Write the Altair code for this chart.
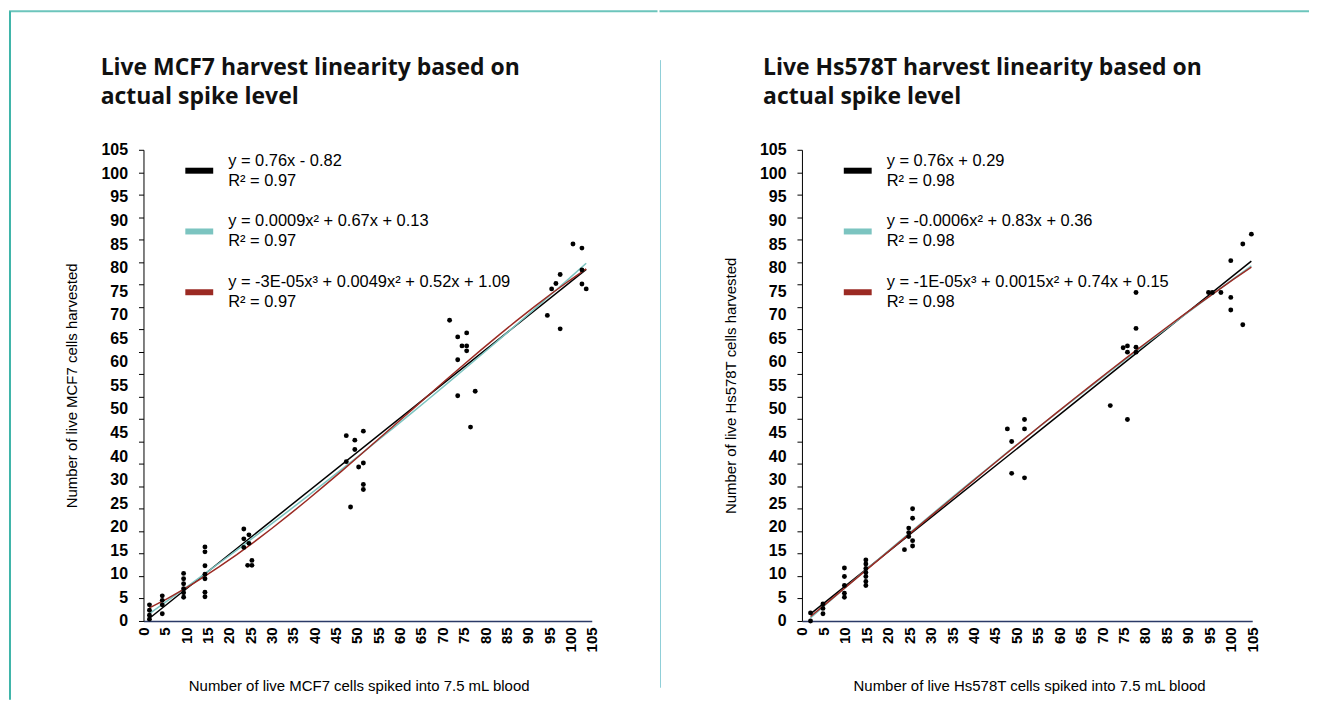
import altair as alt
import pandas as pd

# ---------------- data ----------------
mcf7_x = [1.4, 1.4, 1.4, 1.4,
          4.4, 4.4, 4.4, 4.4,
          9.4, 9.4, 9.4, 9.4, 9.4, 9.4,
          14.4, 14.4, 14.4, 14.4, 14.4, 14.4, 14.4,
          23.5, 23.5, 23.5, 24.4, 24.7, 24.7, 25.4, 25.4,
          47.5, 47.5, 48.5, 49.5, 49.5, 50.4, 51.5, 51.5, 51.5, 51.5,
          71.7, 73.6, 73.6, 73.6, 74.6, 75.7, 75.7, 75.7, 76.6, 77.7,
          94.6, 95.6, 96.6, 97.6, 97.6, 100.6, 102.7, 102.7, 102.7, 103.7]
mcf7_y = [3.6, 2.4, 1.3, 0.4,
          5.6, 4.6, 3.6, 1.6,
          10.6, 9.4, 8.3, 7.2, 6.3, 5.3,
          16.5, 15.4, 12.3, 10.4, 9.4, 6.4, 5.4,
          20.5, 18.3, 16.4, 12.4, 19.2, 17.3, 13.5, 12.4,
          41.3, 35.5, 25.4, 40.3, 38.2, 34.3, 42.3, 35.2, 30.4, 29.3,
          67.0, 63.3, 58.2, 50.2, 61.3, 64.2, 61.3, 60.2, 43.2, 51.2,
          68.1, 74.0, 75.2, 77.2, 65.1, 84.0, 83.1, 78.2, 75.1, 74.0]

hs_x = [2.0, 2.0,
        4.9, 4.9, 4.9,
        9.9, 9.9, 9.9, 9.9, 9.9,
        14.9, 14.9, 14.9, 14.9, 14.9, 14.9, 14.9,
        23.9, 24.9, 24.9, 24.9, 25.8, 25.8, 25.8, 25.8,
        47.9, 48.9, 48.9, 51.9, 51.9, 51.9,
        71.9, 74.9, 75.9, 75.9, 75.9, 77.9, 77.9, 77.9, 77.9,
        94.8, 95.7, 97.7, 100.0, 100.0, 100.0, 102.8, 102.8, 104.8]
hs_y = [1.8, 0.0,
        3.8, 2.8, 1.6,
        11.8, 9.9, 7.9, 6.2, 5.3,
        13.6, 12.7, 11.7, 10.8, 9.9, 8.8, 7.9,
        15.9, 20.7, 19.7, 18.8, 25.0, 22.9, 17.9, 16.7,
        42.8, 40.0, 32.9, 44.9, 42.8, 31.9,
        48.0, 60.9, 61.3, 59.9, 44.9, 73.2, 65.2, 61.0, 59.9,
        73.2, 73.2, 73.2, 80.3, 72.1, 69.3, 84.0, 66.0, 86.2]

x_tick_values = list(range(0, 106, 5))
y_tick_values = list(range(0, 106, 5))
y_label_texts = ['0', '5', '10', '15', '20', '25', '30', '40', '45', '50', '55',
                 '60', '65', '70', '75', '80', '85', '90', '95', '100', '105']

mcf7_eqs = ["y = 0.76x - 0.82", "y = 0.0009x² + 0.67x + 0.13",
            "y = -3E-05x³ +  0.0049x² + 0.52x + 1.09"]
mcf7_r2 = ["R² = 0.97", "R² = 0.97", "R² = 0.97"]
hs_eqs = ["y = 0.76x + 0.29", "y = -0.0006x² + 0.83x + 0.36",
          "y = -1E-05x³ +  0.0015x² + 0.74x + 0.15"]
hs_r2 = ["R² = 0.98", "R² = 0.98", "R² = 0.98"]

fit_methods = [("linear", 1), ("poly", 2), ("poly", 3)]
fit_colors = ["#000000", "#7cc4c0", "#9b2a23"]

mcf7_title = ["Live MCF7 harvest linearity based on", "actual spike level"]
hs_title = ["Live Hs578T harvest linearity based on", "actual spike level"]

# ---------------- style ----------------
H = 473
AX_FONT = "Liberation Sans"
TITLE_FONT = "Open Sans"
one = pd.DataFrame({"k": [0]})

y_label_pos = [i * 105 / 20 for i in range(21)]
label_expr = "[" + ",".join("'%s'" % t for t in y_label_texts) + "][round(datum.value/5.25)]"


def panel(xs, ys, eqs, r2s, ytitle, xtitle, title_lines, title_dx, xtitle_x, width, extra_rules):
    df = pd.DataFrame({"x": xs, "y": ys})
    xs_ = alt.Scale(domain=[0, 105], nice=False, zero=False)
    ys_ = alt.Scale(domain=[0, 105], nice=False, zero=False)

    xaxis = alt.Axis(values=x_tick_values, tickCount=100, ticks=False, labelAngle=270,
                     labelFont=AX_FONT, labelFontWeight="bold", labelFontSize=15,
                     labelColor="black", labelPadding=6, labelOverlap=False,
                     labelFlush=False, domainColor="#2b3a67", domainWidth=1.5,
                     grid=False, title=xtitle, titleFont=AX_FONT,
                     titleFontWeight="normal", titleFontSize=15, titleColor="black",
                     titleX=xtitle_x, titleY=65, titleBaseline="middle")
    yaxis = alt.Axis(values=y_label_pos, tickCount=100, labelExpr=label_expr, ticks=False,
                     labelFont=AX_FONT, labelFontWeight="bold", labelFontSize=16,
                     labelColor="black", labelPadding=16, labelOverlap=False,
                     labelFlush=False, domainColor="black", domainWidth=1,
                     grid=False, orient="left", title=ytitle, titleFont=AX_FONT,
                     titleFontWeight="normal", titleFontSize=15, titleColor="black",
                     titleX=-64, titleY=H / 2)
    ytick_axis = alt.Axis(values=y_tick_values, tickCount=100, labels=False, ticks=True,
                          tickSize=5, tickColor="black", tickWidth=1, domain=False,
                          grid=False, orient="left")

    pts = alt.Chart(df).mark_circle(size=24, color="black", opacity=1).encode(
        x=alt.X("x:Q", scale=xs_, axis=xaxis),
        y=alt.Y("y:Q", scale=ys_, axis=yaxis),
    )
    layers = []
    for (m, o), c in zip(fit_methods, fit_colors):
        layers.append(
            alt.Chart(df).transform_regression("x", "y", method=m, order=o)
            .mark_line(color=c, strokeWidth=1.5)
            .encode(x=alt.X("x:Q", scale=xs_), y=alt.Y("y:Q", scale=ys_))
        )
    layers.append(pts)

    # legend
    sw_y = [21, 82, 143]
    for i in range(3):
        layers.append(alt.Chart(one).mark_rule(color=fit_colors[i], strokeWidth=6).encode(
            x=alt.value(42), x2=alt.value(70), y=alt.value(sw_y[i])))
        layers.append(alt.Chart(one).mark_text(
            font=AX_FONT, fontSize=16.5, color="black", align="left", baseline="middle").encode(
            x=alt.value(85), y=alt.value(sw_y[i] - 10), text=alt.value(eqs[i])))
        layers.append(alt.Chart(one).mark_text(
            font=AX_FONT, fontSize=16.5, color="black", align="left", baseline="middle").encode(
            x=alt.value(85), y=alt.value(sw_y[i] + 10), text=alt.value(r2s[i])))

    # panel title
    for j, line in enumerate(title_lines):
        layers.append(alt.Chart(one).mark_text(
            font=TITLE_FONT, fontWeight="bold", fontSize=23, color="#111111",
            align="left", baseline="middle").encode(
            x=alt.value(title_dx), y=alt.value(-82 + 29 * j), text=alt.value(line)))

    # page frame pieces
    for r in extra_rules:
        layers.append(r)

    main = alt.layer(*layers)
    tick_layer = alt.Chart(df).mark_point(opacity=0).encode(
        x=alt.X("x:Q", scale=xs_),
        y=alt.Y("y:Q", scale=ys_, axis=ytick_axis, title=None),
    )
    return alt.layer(main, tick_layer).resolve_axis(y="independent").properties(
        width=width, height=H)


left_rules = [
    alt.Chart(one).mark_rule(color="#6cc5bc", strokeWidth=2, strokeCap="square").encode(
        x=alt.value(-134), x2=alt.value(515), y=alt.value(-139)),
    alt.Chart(one).mark_rule(color="#3fb5a9", strokeWidth=2).encode(
        x=alt.value(-134), y=alt.value(-139), y2=alt.value(552)),
]
right_rules = [
    alt.Chart(one).mark_rule(color="#6cc5bc", strokeWidth=2, strokeCap="square").encode(
        x=alt.value(-142), x2=alt.value(508), y=alt.value(-139)),
    alt.Chart(one).mark_rule(color="#8fcfd8", strokeWidth=1).encode(
        x=alt.value(-142), y=alt.value(-90), y2=alt.value(540)),
]

left = panel(mcf7_x, mcf7_y, mcf7_eqs, mcf7_r2,
             "Number of live MCF7 cells harvested",
             "Number of live MCF7 cells spiked into 7.5 mL blood",
             mcf7_title, -43, 216, 450, left_rules)
right = panel(hs_x, hs_y, hs_eqs, hs_r2,
              "Number of live Hs578T cells harvested",
              "Number of live Hs578T cells spiked into 7.5 mL blood",
              hs_title, -39, 228, 452, right_rules)

chart = alt.hconcat(left, right, spacing=0).properties(
    padding=0, background="white"
).configure_view(stroke=None)

chart.save("out.html", embed_options={"renderer": "svg", "actions": False})
